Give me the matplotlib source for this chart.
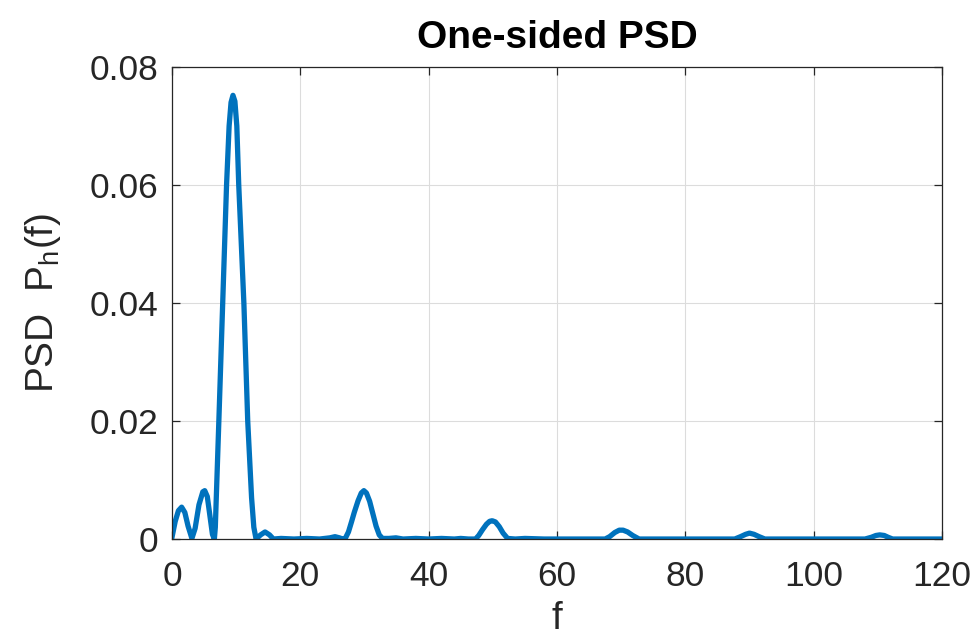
import matplotlib
matplotlib.use("Agg")
import matplotlib.pyplot as plt

plt.rcParams['font.family'] = ['Liberation Sans', 'DejaVu Sans']
plt.rcParams['mathtext.fontset'] = 'custom'
plt.rcParams['mathtext.rm'] = 'Liberation Sans'

# one-sided PSD samples (frequency, power)
freq = [0.0, 0.5, 1.0, 1.5, 2.0, 2.5, 3.1, 3.6, 4.2, 4.8, 5.1, 5.5, 5.9, 6.3,
        6.6, 6.75, 6.9, 7.3, 7.9, 8.5, 8.9, 9.2, 9.5, 9.8, 10.1, 10.4, 11.2,
        11.8, 12.4, 12.75, 13.1, 13.8, 14.5, 15.2, 15.8, 17.0, 19.0, 21.0,
        23.0, 24.6, 25.4, 26.1, 26.6, 27.0, 27.5, 28.0, 28.4, 29.0, 29.5,
        29.9, 30.3, 30.8, 31.3, 31.8, 32.3, 32.8, 33.8, 34.9, 36.0, 38.0,
        40.0, 42.0, 44.0, 45.0, 46.2, 47.3, 47.8, 48.4, 49.0, 49.5, 49.9,
        50.4, 51.0, 51.6, 52.3, 53.5, 55.0, 58.0, 61.0, 64.0, 66.5, 67.5,
        68.2, 69.0, 69.7, 70.3, 71.0, 71.8, 72.8, 74.0, 77.0, 80.0, 83.0,
        86.5, 87.7, 88.6, 89.4, 90.0, 90.7, 91.5, 92.4, 94.0, 97.0, 100.0,
        103.0, 106.5, 108.0, 109.0, 109.7, 110.3, 111.0, 111.6, 112.3,
        114.0, 117.0, 120.0]
psd = [0.0003, 0.0030, 0.0048, 0.0054, 0.0045, 0.0022, 0.0001, 0.0018,
       0.0058, 0.0080, 0.0082, 0.0072, 0.0040, 0.0008,
       0.0000, 0.0020, 0.0070, 0.0200, 0.0400, 0.0600, 0.0700, 0.0740,
       0.0752, 0.0742, 0.0700, 0.0600, 0.0400,
       0.0200, 0.0070, 0.0020, 0.0000, 0.0007, 0.0012, 0.0007, 0.0000,
       0.0001, 0.0000, 0.0001,
       0.0000, 0.0002, 0.0004, 0.0002, 0.0000, 0.0001, 0.0012, 0.0030,
       0.0045, 0.0065, 0.0078,
       0.0082, 0.0078, 0.0064, 0.0043, 0.0022, 0.0007, 0.0001, 0.0001,
       0.0002, 0.0000, 0.0001,
       0.0000, 0.0001, 0.0000, 0.0001, 0.0000, 0.0000, 0.0006, 0.0016,
       0.0025, 0.0030, 0.0031,
       0.0029, 0.0021, 0.0010, 0.0001, 0.0000, 0.0001, 0.0000, 0.0000,
       0.0000, 0.0000, 0.0000,
       0.0004, 0.0011, 0.0015, 0.0015, 0.0012, 0.0006, 0.0000, 0.0000,
       0.0000, 0.0000, 0.0000,
       0.0000, 0.0000, 0.0004, 0.0008, 0.0010, 0.0008, 0.0004, 0.0000,
       0.0000, 0.0000, 0.0000,
       0.0000, 0.0000, 0.0000, 0.0003, 0.0006, 0.0007, 0.0006, 0.0003,
       0.0000,
       0.0000, 0.0000, 0.0000]

xticks = [0, 20, 40, 60, 80, 100, 120]
yticks = [0, 0.02, 0.04, 0.06, 0.08]
ytick_labels = ['0', '0.02', '0.04', '0.06', '0.08']

fig = plt.figure(figsize=(9.79, 6.42), dpi=100)
ax = fig.add_axes([0.1757, 0.1604, 0.7865, 0.7352])

ax.plot(freq, psd, color='#0072BD', linewidth=3.8, solid_joinstyle='round')

ax.set_xlim(0, 120)
ax.set_ylim(0, 0.08)
ax.set_xticks(xticks)
ax.set_yticks(yticks)
ax.set_yticklabels(ytick_labels)

ax.grid(True, color='#dcdcdc', linewidth=0.8)
ax.set_axisbelow(True)
for s in ax.spines.values():
    s.set_color('#262626')
    s.set_linewidth(0.9)
ax.tick_params(direction='in', length=6, width=0.9, color='#262626',
               labelsize=25.5, labelcolor='#262626', top=True, right=True)
ax.tick_params(axis='x', pad=15)
ax.tick_params(axis='y', pad=10)

ax.set_title('One-sided PSD', fontsize=28, fontweight='bold', pad=14)
ax.set_xlabel('f', fontsize=28, color='#262626', labelpad=6)
ax.set_ylabel(r'PSD  P$_\mathregular{h}$(f)', fontsize=28, color='#262626',
              labelpad=19)

fig.savefig('out.png', dpi=100)
